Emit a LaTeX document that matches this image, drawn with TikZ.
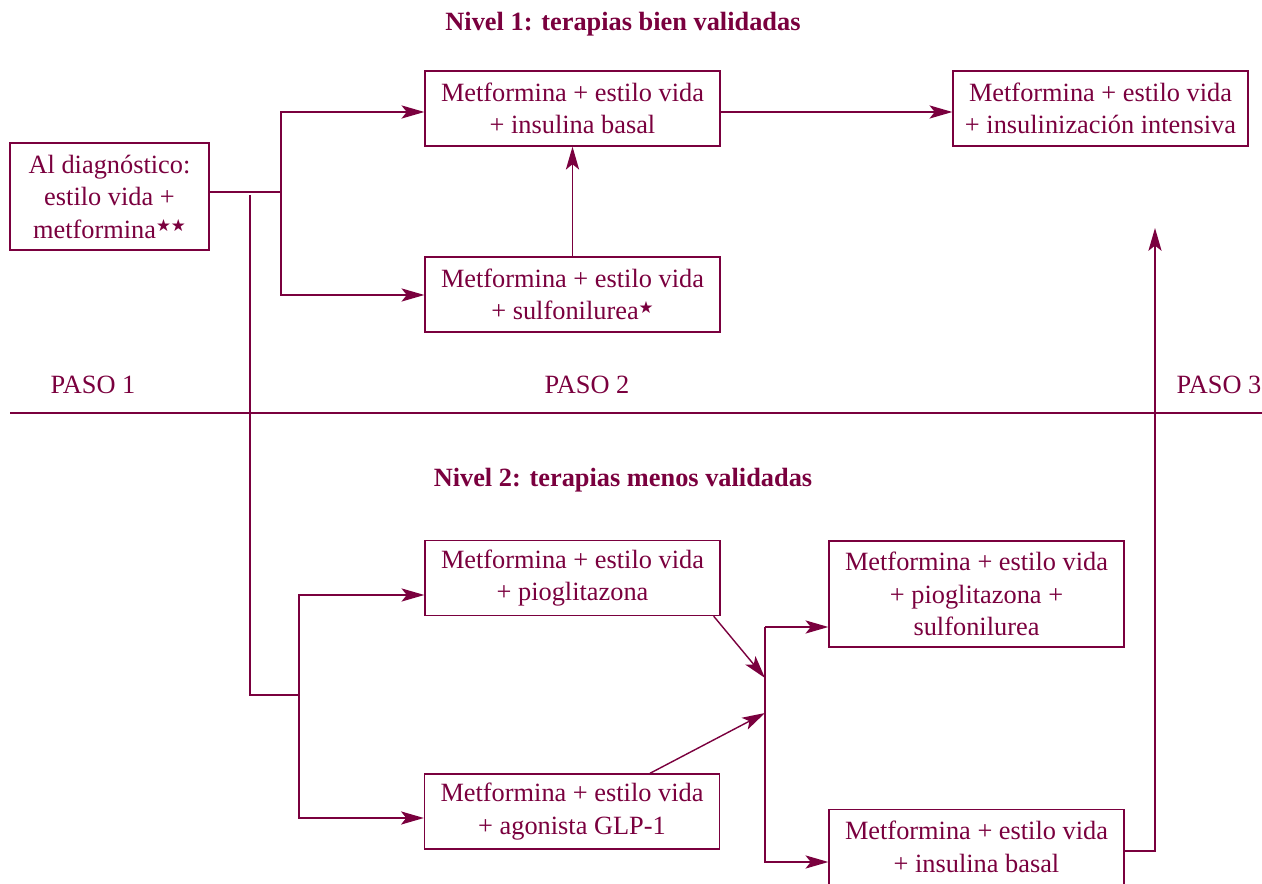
\documentclass[tikz,border=0pt]{standalone}
\usepackage{fontspec}
\setmainfont{Liberation Serif}
\newfontfamily\symfont{DejaVu Sans}
\usetikzlibrary{arrows.meta}
\definecolor{granate}{RGB}{122,0,62}
\newcommand{\estrella}[1]{\raisebox{0.5ex}{\symfont\fontsize{9.5}{9.5}\selectfont #1}}

\tikzset{
  caja/.style={draw=granate,line width=0.8pt,minimum width=5.9cm,minimum height=1.5cm,
    align=center,inner sep=2pt},
  flecha/.style={draw=granate,line width=0.8pt,-{Stealth[length=13pt,width=7.5pt,inset=3pt]}},
  linea/.style={draw=granate,line width=0.8pt}
}
\tikzstyle{every node}=[color=granate,font=\fontsize{15}{18.5}\selectfont]

\begin{document}
\begin{tikzpicture}[x=0.02cm,y=-0.02cm]
    \useasboundingbox (0,0) rectangle (1262,884);
    % titulos y pasos
    \node (nivel1) at (623,24) {\textbf{Nivel 1: terapias bien validadas}};
    \node (nivel2) at (623,480) {\textbf{Nivel 2: terapias menos validadas}};
    \node (paso1) at (93,385) {PASO 1};
    \node (paso2) at (587,385) {PASO 2};
    \node (paso3) at (1219,385) {PASO 3};
    \coordinate (sepA) at (10,413);
    \coordinate (sepB) at (1262,413);
    \draw[linea] (sepA) -- (sepB);
    % cajas
    \node[caja,minimum width=3.98cm,minimum height=2.14cm] (diag) at (109.5,196.5)
      {Al diagnóstico:\\estilo vida +\\metformina\estrella{★★}};
    \node[caja] (basal) at (572.5,108.5) {Metformina + estilo vida\\+ insulina basal};
    \node[caja] (sulfo) at (572.5,294.5) {Metformina + estilo vida\\+ sulfonilurea\estrella{★}};
    \node[caja] (intens) at (1100.5,108.5) {Metformina + estilo vida\\+ insulinización intensiva};
    \node[caja] (pio) at (572.5,578) {Metformina + estilo vida\\+ pioglitazona};
    \node[caja] (glp) at (572,811.5) {Metformina + estilo vida\\+ agonista GLP-1};
    \node[caja,minimum height=2.12cm] (piosu) at (976.5,594) {Metformina + estilo vida\\+ pioglitazona +\\sulfonilurea};
    \node[caja] (basal2) at (976.5,847) {Metformina + estilo vida\\+ insulina basal};
    % nivel 1
    \coordinate (r1) at (281,192);
    \draw[linea] (diag.east |- r1) -- (r1);
    \draw[flecha] (r1) |- (basal.west |- 0,112);
    \draw[flecha] (r1) |- (sulfo.west |- 0,295);
    \draw[flecha] (sulfo) -- (basal);
    \draw[flecha] (basal.east |- 0,112) -- (intens.west |- 0,112);
    % nivel 2
    \coordinate (b0) at (250,195);
    \coordinate (r2) at (299,695);
    \draw[linea] (b0) |- (r2);
    \draw[flecha] (r2) |- (pio.west |- 0,595);
    \draw[flecha] (r2) |- (glp.west |- 0,818);
    \coordinate (p1) at (765,678);
    \coordinate (p2) at (765,713);
    \draw[flecha] ([xshift=-0.14cm]pio.south east) -- (p1);
    \draw[flecha] ([xshift=1.56cm]glp.north) -- (p2);
    \coordinate (r3) at (765,627);
    \draw[flecha] (r3) -- (piosu.west |- r3);
    \draw[flecha] (r3) |- (basal2.west |- 0,862);
    \coordinate (s3) at (1155,228);
    \draw[flecha] (basal2.east |- 0,851) -| (s3);
\end{tikzpicture}
\end{document}
